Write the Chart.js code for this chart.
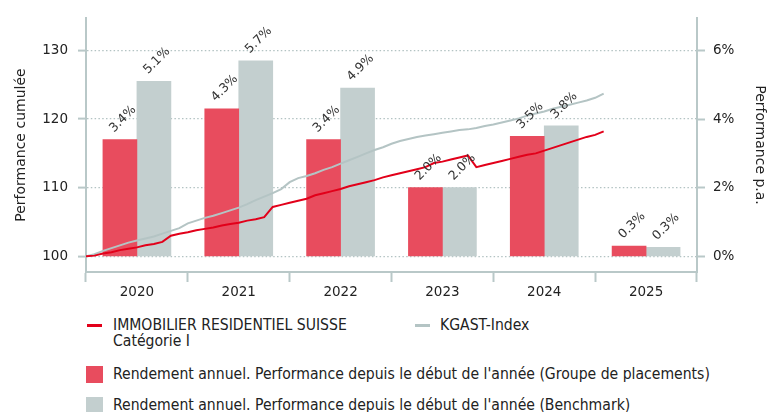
<!DOCTYPE html>
<html>
<head>
<meta charset="utf-8">
<script src="https://cdn.jsdelivr.net/npm/chart.js@4.4.1/dist/chart.umd.min.js"></script>
<style>
  body { margin: 0; background: #fff; }
  #wrap { position: relative; width: 778px; height: 412px; overflow: hidden; color: #222;
          font-family: "DejaVu Sans Condensed", "DejaVu Sans", sans-serif; }
  #chart { position: absolute; left: 0; top: 0; }
  .lg { position: absolute; font-size: 15.6px; line-height: 16px; white-space: nowrap; }
  .line { position: absolute; width: 15px; height: 3px; }
  .box { position: absolute; width: 17px; height: 17px; }
</style>
</head>
<body>
<div id="wrap">
  <canvas id="chart" width="778" height="305"></canvas>

  <div class="line" style="left:87px;top:324px;background:#e2001a"></div>
  <div class="lg" style="left:113px;top:317px">IMMOBILIER RESIDENTIEL SUISSE<br>Catégorie I</div>
  <div class="line" style="left:415px;top:324px;background:#b4c4c4"></div>
  <div class="lg" style="left:440px;top:317px">KGAST-Index</div>

  <div class="box" style="left:86px;top:366px;background:#e84c5e"></div>
  <div class="lg" style="left:113px;top:366px">Rendement annuel. Performance depuis le début de l'année (Groupe de placements)</div>
  <div class="box" style="left:86px;top:397px;background:#c3cfcf"></div>
  <div class="lg" style="left:113px;top:397px">Rendement annuel. Performance depuis le début de l'année (Benchmark)</div>
</div>

<script>
// years on the category axis
const years = ["2020", "2021", "2022", "2023", "2024", "2025"];

// annual returns in % (right axis)
const fundReturns = [3.4, 4.3, 3.4, 2.0, 3.5, 0.3];
const benchReturns = [5.1, 5.7, 4.9, 2.0, 3.8, 0.26];

// cumulative performance, month ends from Jan 2020 (left axis)
const fundCumul = [
  100.0, 100.1, 100.4, 100.6, 100.9, 101.1, 101.3, 101.6, 101.8, 102.1, 103.0, 103.3,
  103.5, 103.8, 104.0, 104.2, 104.5, 104.7, 104.9, 105.2, 105.4, 105.7, 107.2, 107.5,
  107.8, 108.1, 108.4, 108.9, 109.2, 109.5, 109.8, 110.2, 110.5, 110.8, 111.1, 111.5,
  111.8, 112.1, 112.4, 112.7, 113.0, 113.6, 113.8, 114.1, 114.4, 114.7, 113.0, 113.3,
  113.6, 113.9, 114.2, 114.5, 114.8, 115.0, 115.4, 115.8, 116.2, 116.6, 117.0, 117.4,
  117.7, 118.2
];
const kgastCumul = [
  100.0, 100.3, 100.8, 101.2, 101.6, 102.0, 102.3, 102.6, 102.9, 103.3, 103.7, 104.1,
  104.8, 105.2, 105.6, 105.9, 106.3, 106.7, 107.1, 107.6, 108.2, 108.7, 109.2, 109.8,
  110.8, 111.4, 111.7, 112.1, 112.6, 113.0, 113.5, 114.0, 114.5, 115.0, 115.5, 115.9,
  116.4, 116.8, 117.1, 117.4, 117.6, 117.8, 118.0, 118.2, 118.4, 118.5, 118.7, 119.0,
  119.2, 119.5, 119.8, 120.1, 120.5, 120.8, 121.1, 121.5, 121.8, 122.1, 122.4, 122.7,
  123.1, 123.7
];

const leftTicks = [100, 110, 120, 130];
const rightTicks = [0, 2, 4, 6];

const axisCol = "#b9c8c8";
const gridCol = "#b3c3c3";
const leftMin = 97.714, leftMax = 134.714;

// everything sits on one time axis in years since Jan 2020:
// monthly points for the lines, mid-year for the annual bars
const toPoints = arr => arr.map((v, i) => ({ x: i / 12, y: v }));
const toYearly = arr => arr.map((v, i) => ({ x: i + 0.5, y: v }));

const barLabels = {
  id: "barLabels",
  afterDatasetsDraw(chart) {
    const ctx = chart.ctx;
    ctx.save();
    ctx.font = '12.5px "DejaVu Sans"';
    ctx.fillStyle = "#333";
    ctx.textAlign = "left";
    ctx.textBaseline = "alphabetic";
    [fundReturns, benchReturns].forEach((vals, di) => {
      chart.getDatasetMeta(di).data.forEach((bar, i) => {
        ctx.save();
        ctx.translate(bar.x - 6, bar.y - 7);
        ctx.rotate(-Math.PI / 4);
        ctx.fillText(vals[i].toFixed(1) + "%", 0, 0);
        ctx.restore();
      });
    });
    ctx.restore();
  }
};

const tickFont = { family: "DejaVu Sans", size: 13.5 };
const titleFont = { family: "DejaVu Sans", size: 14 };

new Chart(document.getElementById("chart"), {
  type: "bar",
  data: {
    labels: years,
    datasets: [
      { label: "Groupe de placements", data: toYearly(fundReturns), backgroundColor: "#e84c5e",
        xAxisID: "x", yAxisID: "y1", order: 2, barThickness: 34 },
      { label: "Benchmark", data: toYearly(benchReturns), backgroundColor: "#c3cfcf",
        xAxisID: "x", yAxisID: "y1", order: 2, barThickness: 34 },
      { type: "line", label: "IMMOBILIER RESIDENTIEL SUISSE", data: toPoints(fundCumul),
        borderColor: "#e2001a", borderWidth: 2, pointRadius: 0, tension: 0,
        xAxisID: "x", yAxisID: "y", order: 0 },
      { type: "line", label: "KGAST-Index", data: toPoints(kgastCumul),
        borderColor: "#b4c4c4", borderWidth: 2, pointRadius: 0, tension: 0,
        xAxisID: "x", yAxisID: "y", order: 1 }
    ]
  },
  options: {
    responsive: false,
    animation: false,
    layout: { padding: { top: 13, left: 0, right: 0, bottom: 0 } },
    plugins: { legend: { display: false }, tooltip: { enabled: false } },
    scales: {
      x: { type: "linear", display: false, offset: false, min: 0, max: 6, ticks: { stepSize: 1 } },
      xc: {
        type: "category",
        position: "bottom",
        offset: true,
        afterFit: s => { s.height = 33; },
        border: { display: true, color: axisCol, width: 2 },
        grid: { offset: true, drawOnChartArea: false, drawTicks: true, tickLength: 10,
                tickColor: axisCol, tickWidth: 2 },
        ticks: { color: "#222", font: tickFont, padding: 2, maxRotation: 0 }
      },
      y: {
        position: "left",
        min: leftMin, max: leftMax,
        afterFit: s => { s.width = 86; },
        afterBuildTicks: s => { s.ticks = leftTicks.map(v => ({ value: v })); },
        border: { display: true, color: axisCol, width: 2, dash: [1.5, 2.3] },
        grid: { color: gridCol, lineWidth: 1.2, tickLength: 8, tickColor: axisCol, tickWidth: 2 },
        ticks: { color: "#222", font: tickFont, padding: 10 },
        title: { display: true, text: "Performance cumulée", color: "#222", font: titleFont,
                 padding: { top: 13, bottom: 0 } }
      },
      y1: {
        position: "right",
        stacked: false,
        min: (leftMin - 100) / 5, max: (leftMax - 100) / 5,
        afterFit: s => { s.width = 81; },
        afterBuildTicks: s => { s.ticks = rightTicks.map(v => ({ value: v })); },
        border: { display: true, color: axisCol, width: 2 },
        grid: { drawOnChartArea: false, drawTicks: true, tickLength: 8, tickColor: axisCol, tickWidth: 2 },
        ticks: { color: "#222", font: tickFont, padding: 8, callback: v => v + "%" },
        title: { display: true, text: "Performance p.a.", color: "#222", font: titleFont,
                 padding: { top: 10, bottom: 0 } }
      }
    }
  },
  plugins: [barLabels]
});
</script>
</body>
</html>
